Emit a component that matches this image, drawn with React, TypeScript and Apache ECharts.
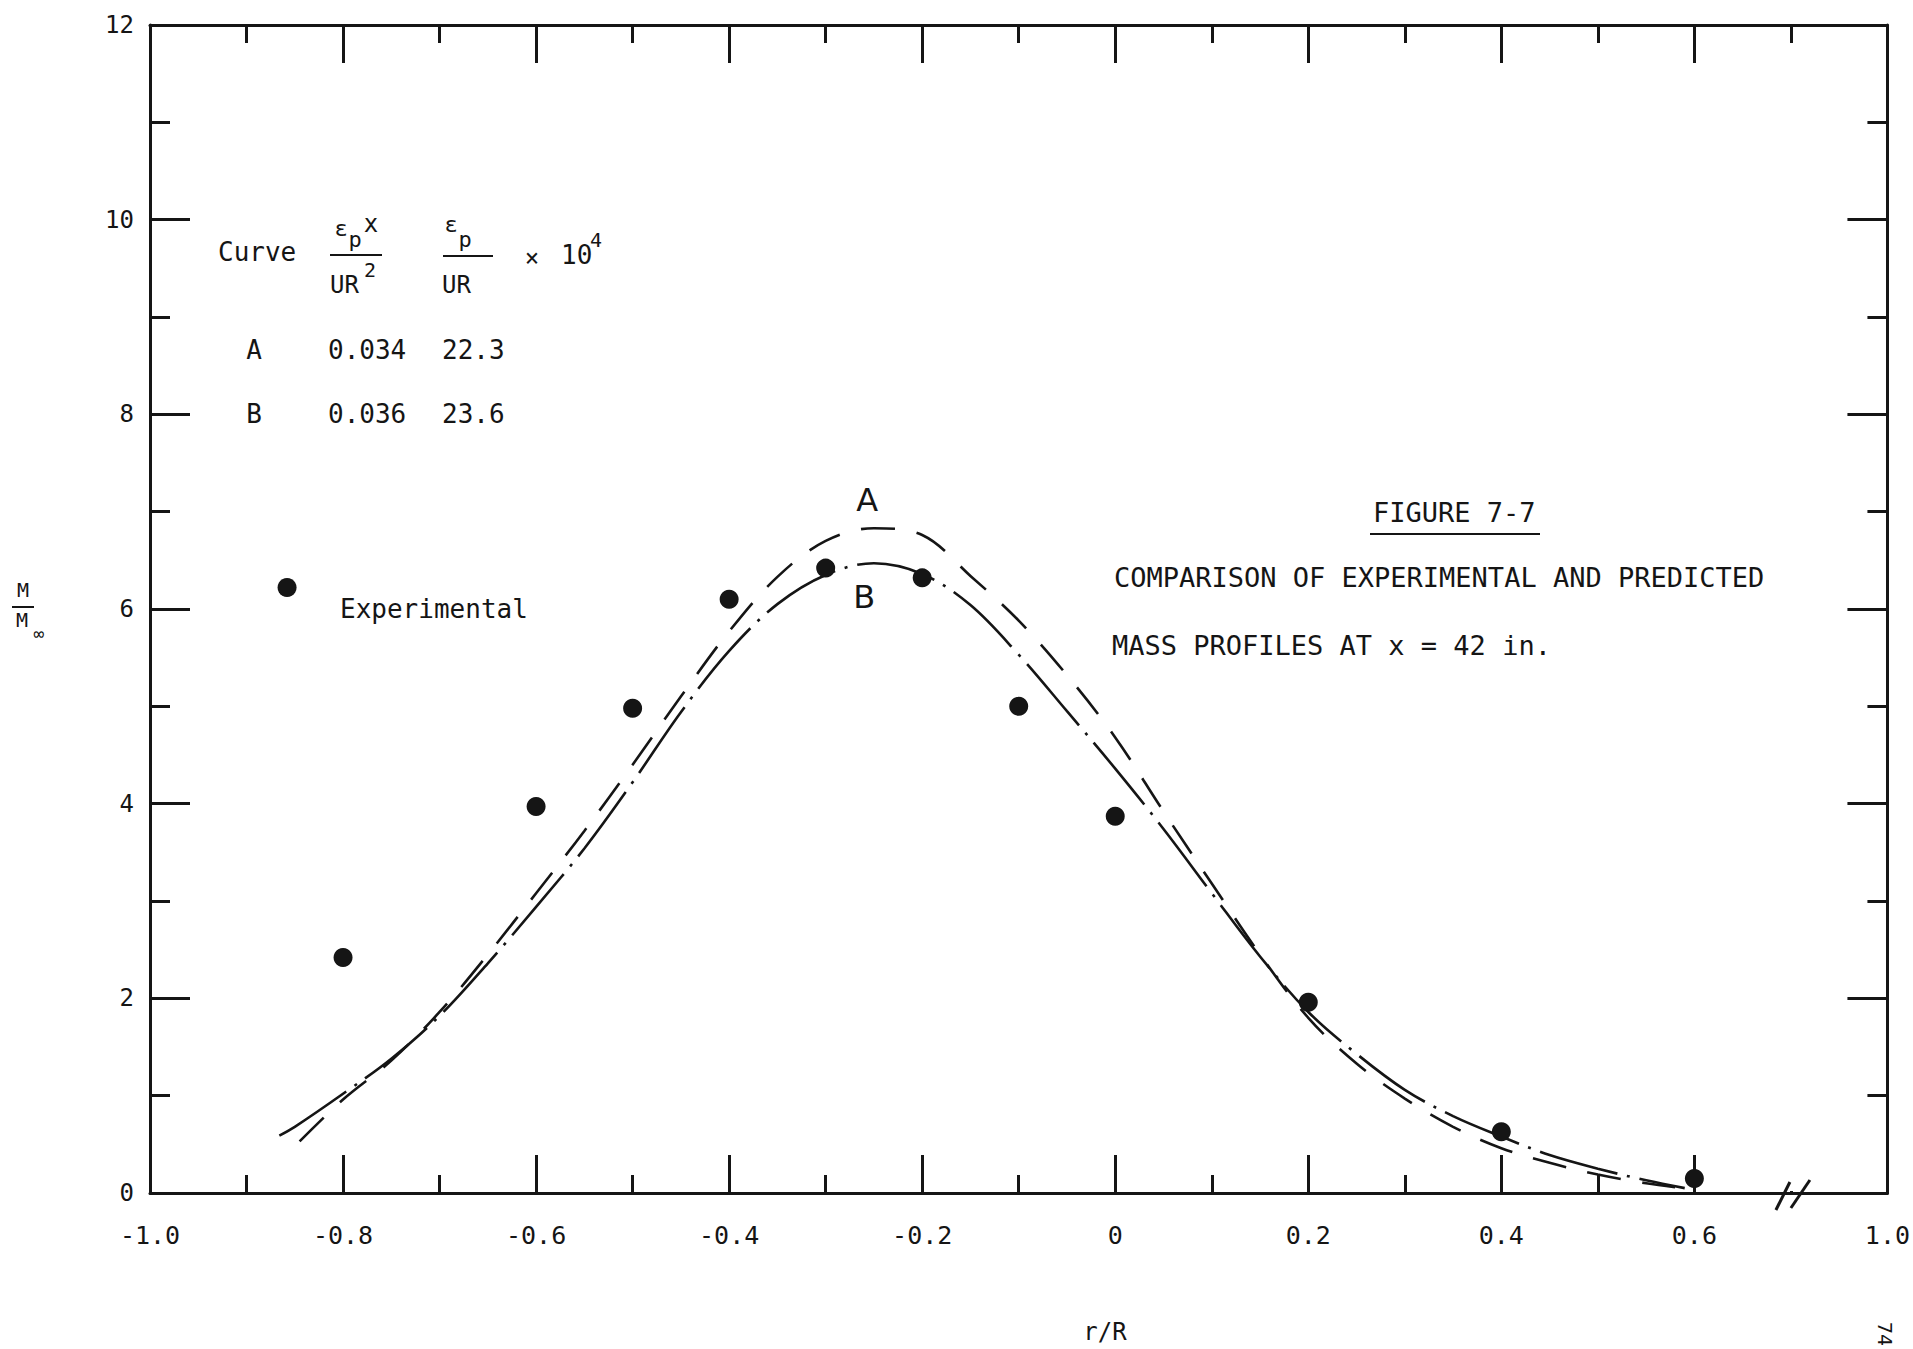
import React, { useEffect, useRef } from "react";
import * as echarts from "echarts";

// ---- data ----
// Experimental points (r/R, M/M∞)
const rExp = [-0.8, -0.6, -0.5, -0.4, -0.3, -0.2, -0.1, 0.0, 0.2, 0.4, 0.6];
const mExp = [2.42, 3.97, 4.98, 6.1, 6.42, 6.32, 5.0, 3.87, 1.96, 0.63, 0.15];

// Curve A (dashed)
const rA = [-0.845, -0.8, -0.75, -0.7, -0.65, -0.6, -0.55, -0.5, -0.45, -0.4, -0.35, -0.3, -0.25, -0.2, -0.15, -0.1, -0.05, 0, 0.05, 0.1, 0.15, 0.2, 0.25, 0.3, 0.35, 0.4, 0.45, 0.5, 0.55, 0.58];
const mA = [0.53, 0.96, 1.36, 1.86, 2.45, 3.08, 3.72, 4.4, 5.1, 5.77, 6.33, 6.7, 6.83, 6.76, 6.34, 5.88, 5.32, 4.68, 3.92, 3.18, 2.45, 1.8, 1.33, 0.97, 0.68, 0.46, 0.31, 0.19, 0.1, 0.06];

// Curve B (dash-dot)
const rB = [-0.866, -0.85, -0.8, -0.75, -0.7, -0.65, -0.6, -0.55, -0.5, -0.45, -0.4, -0.35, -0.3, -0.25, -0.2, -0.15, -0.1, -0.05, 0, 0.05, 0.1, 0.15, 0.2, 0.25, 0.3, 0.35, 0.4, 0.45, 0.5, 0.55, 0.59];
const mB = [0.59, 0.68, 1.02, 1.38, 1.82, 2.36, 2.94, 3.54, 4.22, 4.94, 5.57, 6.05, 6.35, 6.47, 6.36, 6.04, 5.53, 4.95, 4.36, 3.74, 3.08, 2.43, 1.86, 1.43, 1.06, 0.79, 0.58, 0.39, 0.25, 0.13, 0.05];

// x tick labels (axis is broken after 0.6: the right edge is labelled 1.0)
const xLabelValues = [-1.0, -0.8, -0.6, -0.4, -0.2, 0, 0.2, 0.4, 0.6, 0.8];
const xLabelTexts = ["-1.0", "-0.8", "-0.6", "-0.4", "-0.2", "0", "0.2", "0.4", "0.6", "1.0"];
const yLabelTexts = ["0", "2", "4", "6", "8", "10", "12"];

// legend table
const tableCurves = ["A", "B"];
const tableCol1 = ["0.034", "0.036"];
const tableCol2 = ["22.3", "23.6"];

const titleLines = ["FIGURE 7-7", "COMPARISON OF EXPERIMENTAL AND PREDICTED", "MASS PROFILES AT x = 42 in."];

export default function App() {
  const ref = useRef<HTMLDivElement>(null);

  useEffect(() => {
    const el = ref.current!;
    const chart = echarts.init(el, null, { renderer: "svg" });
    const INK = "#151515";
    const MONO = "'DejaVu Sans Mono', monospace";
    const SANS = "'DejaVu Sans', sans-serif";

    const xFmt = (v: number) => {
      const i = xLabelValues.findIndex((t) => Math.abs(t - v) < 1e-6);
      return i >= 0 ? xLabelTexts[i] : "";
    };
    const yFmt = (v: number) => {
      const i = Math.round(v / 2);
      return Math.abs(v - i * 2) < 1e-6 && i >= 0 && i < yLabelTexts.length ? yLabelTexts[i] : "";
    };

    const line3 = { color: INK, width: 3 };
    const xAxisBase = (pos: "bottom" | "top", labels: boolean) => ({
      type: "value",
      position: pos,
      min: -1,
      max: 0.8,
      interval: 0.2,
      axisLine: { show: true, onZero: false, lineStyle: line3 },
      axisTick: { show: true, inside: true, length: 38, lineStyle: line3 },
      minorTick: { show: true, splitNumber: 2, length: 18, lineStyle: line3 },
      splitLine: { show: false },
      minorSplitLine: { show: false },
      axisLabel: labels
        ? { show: true, margin: 30, fontSize: 25, fontFamily: MONO, color: INK, formatter: xFmt }
        : { show: false },
    });
    const yAxisBase = (pos: "left" | "right", labels: boolean) => ({
      type: "value",
      position: pos,
      min: 0,
      max: 12,
      interval: 2,
      axisLine: { show: true, onZero: false, lineStyle: line3 },
      axisTick: { show: true, inside: true, length: 40, lineStyle: line3 },
      minorTick: { show: true, splitNumber: 2, length: 20, lineStyle: line3 },
      splitLine: { show: false },
      minorSplitLine: { show: false },
      axisLabel: labels
        ? { show: true, margin: 16, fontSize: 24, fontFamily: MONO, color: INK, formatter: yFmt, padding: [0, 0, 16, 0] }
        : { show: false },
    });

    chart.setOption({
      animation: false,
      backgroundColor: "#ffffff",
      grid: { left: 150, right: 21, top: 25, bottom: 156, containLabel: false },
      xAxis: [xAxisBase("bottom", true), xAxisBase("top", false)],
      yAxis: [yAxisBase("left", true), yAxisBase("right", false)],
      series: [
        {
          name: "Experimental",
          type: "scatter",
          xAxisIndex: 0,
          yAxisIndex: 0,
          symbol: "circle",
          symbolSize: 19,
          itemStyle: { color: INK, opacity: 1 },
          data: rExp.map((r, i) => [r, mExp[i]]),
          z: 5,
        },
        {
          name: "A",
          type: "line",
          xAxisIndex: 0,
          yAxisIndex: 0,
          smooth: 0.35,
          showSymbol: false,
          symbol: "none",
          lineStyle: { color: INK, width: 2.6, type: [34, 22] },
          data: rA.map((r, i) => [r, mA[i]]),
          z: 3,
        },
        {
          name: "B",
          type: "line",
          xAxisIndex: 0,
          yAxisIndex: 0,
          smooth: 0.35,
          showSymbol: false,
          symbol: "none",
          lineStyle: { color: INK, width: 2.6, type: [80, 10, 3, 10] },
          data: rB.map((r, i) => [r, mB[i]]),
          z: 3,
        },
      ],
    });

    const px = (x: number, y: number) => chart.convertToPixel({ seriesIndex: 0 }, [x, y]) as number[];
    const txt = (text: string, x: number, y: number, size: number, align = "left", family = MONO, extra: any = {}) => ({
      type: "text",
      x,
      y,
      z: 20,
      ...extra,
      style: { text, fill: INK, fontSize: size, fontFamily: family, textAlign: align, textVerticalAlign: "middle" },
    });
    const seg = (x1: number, y1: number, x2: number, y2: number, w = 2) => ({
      type: "line",
      z: 20,
      shape: { x1, y1, x2, y2 },
      style: { stroke: INK, lineWidth: w },
    });

    const brk = px(0.7, 0);
    const labA = px(-0.257, 7.12);
    const labB = px(-0.26, 6.12);
    const legDot = px(-0.858, 6.22);

    const g: any[] = [
      // axis break on the bottom axis
      { type: "rect", z: 15, shape: { x: brk[0] - 5, y: brk[1] - 24, width: 10, height: 22 }, style: { fill: "#ffffff" } },
      seg(brk[0] - 15, brk[1] + 17, brk[0] - 1, brk[1] - 11, 3),
      seg(brk[0], brk[1] + 15, brk[0] + 19, brk[1] - 13, 3),
      // curve labels
      txt("A", labA[0], labA[1], 32, "center", SANS),
      txt("B", labB[0], labB[1], 32, "center", SANS),
      // experimental legend
      { type: "circle", z: 20, shape: { cx: legDot[0], cy: legDot[1], r: 9.5 }, style: { fill: INK } },
      txt("Experimental", 340, 609, 26),
      // legend table header
      txt("Curve", 218, 252, 26),
      txt("ε", 341, 228, 22, "center"),
      txt("p", 355, 239, 22, "center"),
      txt("x", 371, 224, 24, "center"),
      seg(330, 255, 382, 255, 2),
      txt("UR", 330, 285, 24),
      txt("2", 370, 270, 20, "center"),
      txt("ε", 451, 224, 22, "center"),
      txt("p", 465, 239, 22, "center"),
      seg(443, 256, 493, 256, 2),
      txt("UR", 442, 285, 24),
      txt("×", 532, 258, 24, "center"),
      txt("10", 561, 255, 26),
      txt("4", 596, 240, 20, "center"),
      // table rows
      ...tableCurves.map((c, i) => txt(c, 254, 350 + i * 64, 26, "center")),
      ...tableCol1.map((c, i) => txt(c, 328, 350 + i * 64, 26)),
      ...tableCol2.map((c, i) => txt(c, 442, 350 + i * 64, 26)),
      // figure title block
      txt(titleLines[0], 1373, 512, 27),
      seg(1370, 534, 1540, 534, 2),
      txt(titleLines[1], 1114, 577, 27),
      txt(titleLines[2], 1112, 645, 27),
      // y axis title  M / M∞
      txt("M", 23, 590, 20, "center"),
      seg(12, 607, 34, 607, 2),
      txt("M", 22, 620, 20, "center"),
      txt("∞", 39, 633, 18, "center"),
      // x axis title
      txt("r/R", 1105, 1332, 24, "center"),
      // page number (rotated)
      txt("74", 1885, 1334, 20, "center", MONO, { rotation: -Math.PI / 2 }),
    ];

    chart.setOption({ graphic: g });

    return () => chart.dispose();
  }, []);

  return (
    <div
      ref={ref}
      style={{ position: "fixed", left: 0, top: 0, width: 1913, height: 1349, background: "#ffffff" }}
    />
  );
}
